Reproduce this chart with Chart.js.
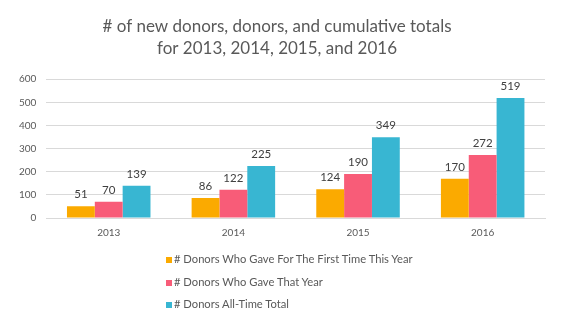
<!DOCTYPE html>
<html>
<head>
<meta charset="utf-8">
<script src="https://cdn.jsdelivr.net/npm/chart.js@4.4.1/dist/chart.umd.min.js"></script>
<style>
  body { margin: 0; background: #fff; }
  .wrap { position: relative; width: 580px; height: 328px; }
  #legend { position: absolute; left: 166px; top: 249px; font-family: Lato, sans-serif; font-size: 11.2px; color: #595959; }
  #legend div { height: 22.5px; line-height: 20px; white-space: nowrap; }
  #legend span.box { display: inline-block; width: 6px; height: 6px; margin-right: 2px; vertical-align: 0px; }
</style>
</head>
<body>
<div class="wrap">
  <canvas id="chart_donors" width="580" height="328"></canvas>
  <div id="legend"></div>
</div>
<script>
  var years = ['2013', '2014', '2015', '2016'];
  var firstTime = [51, 86, 124, 170];
  var gaveThatYear = [70, 122, 190, 272];
  var allTime = [139, 225, 349, 519];
  var yTicks = [0, 100, 200, 300, 400, 500, 600];

  // value labels above each bar
  const barLabels = {
    id: 'barLabels',
    afterDatasetsDraw(chart) {
      const ctx = chart.ctx;
      ctx.save();
      ctx.font = '11.5px Lato, sans-serif';
      ctx.fillStyle = '#404040';
      ctx.textAlign = 'center';
      ctx.textBaseline = 'bottom';
      chart.data.datasets.forEach((ds, i) => {
        chart.getDatasetMeta(i).data.forEach((bar, j) => {
          ctx.fillText(ds.data[j], bar.x, bar.y - 6);
        });
      });
      ctx.restore();
    }
  };

  const chart = document.getElementById('chart_donors');

  var cha = new Chart(chart, {
    type: 'bar',
    data: {
      labels: years,
      datasets: [{
        label: '# Donors Who Gave For The First Time This Year',
        data: firstTime,
        backgroundColor: '#FBAA00'
      }, {
        label: '# Donors Who Gave That Year',
        data: gaveThatYear,
        backgroundColor: '#F85C78'
      }, {
        label: '# Donors All-Time Total',
        data: allTime,
        backgroundColor: '#38B6D2'
      }]
    },
    options: {
      responsive: false,
      animation: false,
      layout: { padding: { left: 9, right: 35, top: 0, bottom: 88 } },
      datasets: { bar: { categoryPercentage: 0.67, barPercentage: 1.0 } },
      plugins: {
        legend: { display: false },
        tooltip: { enabled: false },
        title: {
          display: true,
          text: ['# of new donors, donors, and cumulative totals', 'for 2013, 2014, 2015, and 2016'],
          color: '#595959',
          font: { family: 'Lato, sans-serif', size: 17, weight: 'normal', lineHeight: 1.3 },
          padding: { top: 15, bottom: 20 }
        }
      },
      scales: {
        x: {
          grid: { display: false },
          border: { color: '#d9d9d9' },
          ticks: { color: '#595959', font: { family: 'Lato, sans-serif', size: 10 }, padding: 1 }
        },
        y: {
          min: 0,
          max: 600,
          afterBuildTicks: function(axis) {
            axis.ticks = yTicks.map(v => ({ value: v }));
          },
          grid: { color: '#d9d9d9', drawTicks: false },
          border: { display: false },
          ticks: { color: '#595959', font: { family: 'Lato, sans-serif', size: 10 }, padding: 10 }
        }
      }
    },
    plugins: [barLabels]
  });

  // legend stacked one item per line
  var legend = document.getElementById('legend');
  cha.data.datasets.forEach(function(ds) {
    var row = document.createElement('div');
    row.innerHTML = '<span class="box" style="background:' + ds.backgroundColor + '"></span>' + ds.label;
    legend.appendChild(row);
  });
</script>
</body>
</html>
